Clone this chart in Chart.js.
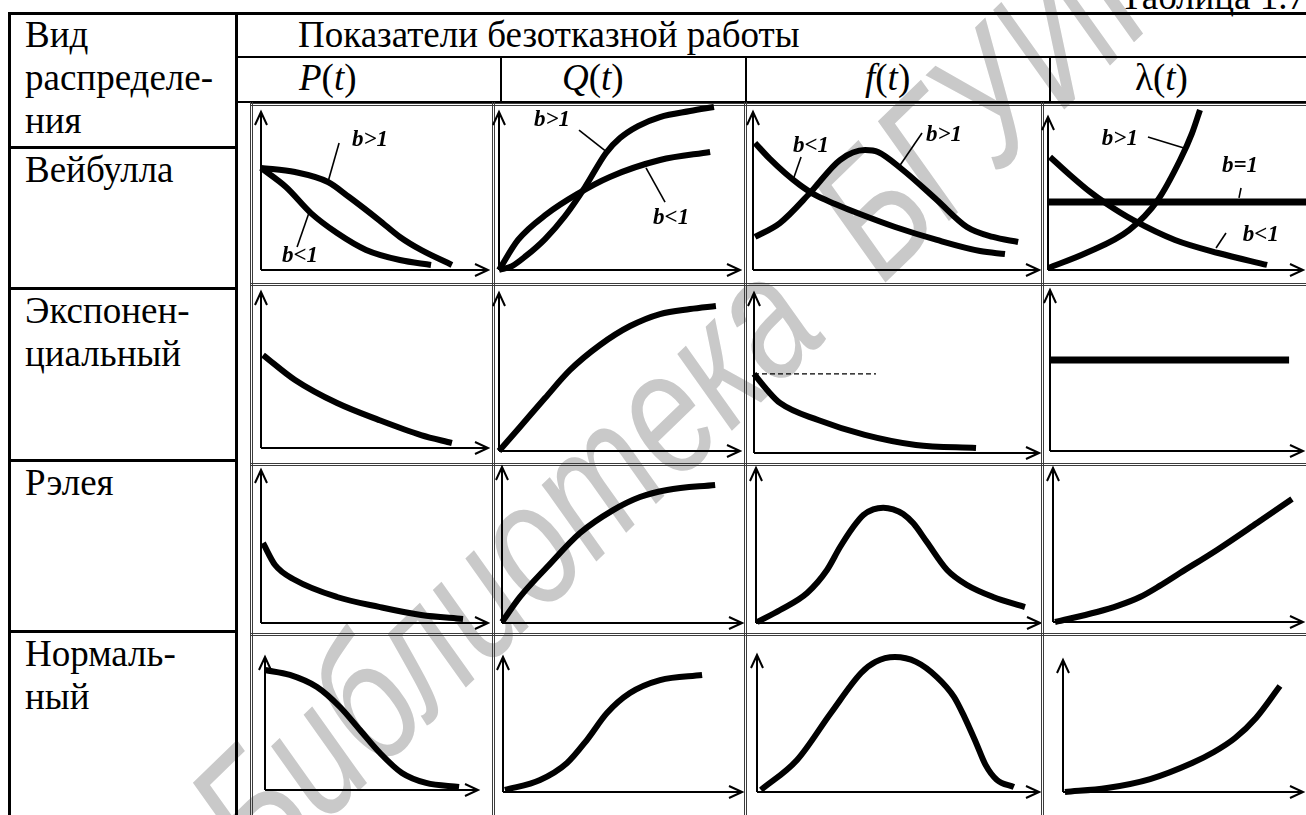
<!DOCTYPE html>
<html lang="ru">
<head>
<meta charset="utf-8">
<title>Показатели безотказной работы</title>
<script src="https://cdn.jsdelivr.net/npm/chart.js@4.4.1/dist/chart.umd.min.js"></script>
<style>
  html, body { margin: 0; padding: 0; background: #fff; }
  #sheet {
    position: relative; width: 1306px; height: 815px; overflow: hidden; background: #fff;
    font-family: "Liberation Serif", "Times New Roman", serif; color: #000;
  }
  .ln { position: absolute; background: #000; z-index: 2; }
  .thin { background: #3c3c3c; }
  .txt {
    position: absolute; white-space: nowrap; line-height: 1; z-index: 3;
    font-family: "Liberation Serif", "Times New Roman", serif;
  }
  canvas.cell { position: absolute; z-index: 4; }
  #stamp {
    position: absolute; white-space: nowrap; line-height: 1; z-index: 1;
    font: italic 176px "Liberation Sans", Arial, sans-serif; color: #c9c9c9; word-spacing: 45px;
    left: 252px; top: 727px; transform-origin: 0 149px; transform: rotate(-44deg) scale(0.77, 1);
  }
</style>
</head>
<body>
<div id="sheet"><div id="stamp">Библиотека БГУИР</div></div>
<script>
// подписи таблицы
const tableCaption = "Таблица 1.7";
const headerTitle = "Показатели безотказной работы";
const columnTitles = ["<i>P</i>(<i>t</i>)", "<i>Q</i>(<i>t</i>)", "<i>f</i>(<i>t</i>)", "λ(<i>t</i>)"];
const cornerTitle = ["Вид", "распределе-", "ния"];
const rowTitles = [["Вейбулла"], ["Экспонен-", "циальный"], ["Рэлея"], ["Нормаль-", "ный"]];

// кривые: [t, значение] в процентах длины осей (0 — начало, 100 — стрелка)
// Вейбулла
const weibullP_gt = [[0,64.6],[15,62],[29.5,55.7],[38.8,46.2],[52,31.6],[61.2,20.9],[70.5,12.7],[84.1,3.2]];
const weibullP_lt = [[0,64.6],[11,52.5],[22,36],[33.5,23.4],[46.3,12.7],[61.2,6.3],[74.9,3.2]];
const weibullQ_gt = [[0,0],[5.4,2.5],[11.2,8.9],[19.1,19.6],[27.4,34.2],[35.7,52.5],[44.4,74.1],[50.2,83.5],[57.7,91.1],[66.8,96.8],[79.3,100.6],[89.2,103.2]];
const weibullQ_lt = [[0,0],[7.9,19],[19.9,35.5],[32.4,48],[46,58.9],[66.8,69.6],[87.6,74.7]];
const weibullF_lt = [[0.7,80.4],[5.9,70.3],[11.2,61.4],[16.4,53.8],[21.7,47.5],[28.7,41.8],[37.4,35.4],[49.7,27.2],[64.3,19],[79.4,12],[88.1,10.1]];
const weibullF_gt = [[0.7,20.9],[9.4,29.7],[19.9,48.7],[30.4,69.6],[39.2,75.9],[43.7,74.7],[52.4,63.3],[64.3,44.3],[74.8,27.2],[83.9,20.9],[92.7,17.7]];
const weibullL_gt = [[0,1.3],[14.9,11.1],[31.8,26.1],[43.1,45.8],[51.8,71.9],[56.5,89.5],[59.6,104.6]];
const weibullL_lt = [[0.8,73.9],[8.6,62.1],[16.5,51],[23.1,43.1],[33.3,32.7],[49.8,19.6],[66.7,11.1],[85.9,3.3]];
const weibullL_eq = [[0,44.4],[101.2,44.4]];
// экспоненциальный
const expP = [[0.9,59.6],[15,43.6],[33.5,28.8],[52,17.9],[70.5,8.3],[84.1,3.2]];
const expQ = [[0,0],[8.7,15.2],[19.1,33.5],[29.5,51.3],[41.9,67.1],[54.4,79.1],[66.8,86.7],[79.3,89.9],[90,91.8]];
const expF = [[0,49.4],[4.6,39.4],[9.1,31.3],[22.5,20.6],[38.9,11.3],[56.8,5],[77.9,3.1]];
const expF_level = [[0,49.4],[42.8,49.4]];
const expL = [[0,56.5],[94.5,56.5]];
// Рэлея
const rayleighP = [[0.9,52.3],[6.2,37.9],[15,28.1],[33.5,17],[52,10.5],[70.5,5.2],[89,2.6]];
const rayleighQ = [[0,0.6],[7.5,16.7],[18.8,35.9],[32.5,57.7],[46.3,72.4],[57.5,80.8],[68.8,85.3],[88.8,88.5]];
const rayleighF = [[0.4,0.6],[8.5,8.4],[18,19.4],[25,34.2],[29.6,49],[34.3,62.1],[37.8,69.7],[41.3,73.3],[44.8,74.4],[48.3,73.3],[51.8,70.3],[55.4,64.3],[60.1,52.4],[67.3,34.2],[74.3,24.5],[83.5,16.8],[94.7,10.3]];
const rayleighL = [[0.8,0],[17.6,6.5],[26.1,10.6],[34.8,16.2],[42.8,23.6],[50.8,31.8],[65.6,46.8],[81.6,64.3],[95.6,79.9]];
// нормальный
const normalP = [[0,90.2],[11.7,86.5],[24.4,77.4],[35.2,62.4],[44.6,45.1],[54,27.8],[64.3,12.8],[75.6,5.3],[91.1,2.3]];
const normalQ = [[0.8,1.5],[15.5,8.9],[26.8,21.5],[35.1,38.5],[43.5,58.5],[53.1,73.3],[65.7,82.9],[83.3,86.7]];
const normalF = [[1.4,1.5],[14.2,23.4],[26.2,57.7],[36.9,86.9],[42,95],[48.9,98.5],[56.4,95],[63.8,83.9],[69.9,69.3],[73.5,55],[77.7,35.8],[81,20],[85,9],[91.1,3.6]];
const normalL = [[0.8,0],[18.3,3],[36.3,9.8],[53.8,22],[62.9,30.3],[71.7,40.9],[80.4,56.1],[90.4,80.3]];

// выноски и надписи параметра формы b
const weibullP_leaders = [[[34.4,80.4],[29.5,55.7]], [[15.9,14.6],[21.1,36.1]]];
const weibullP_notes = [["b>1",48,82.3], ["b<1",17.2,8.9]];
const weibullQ_leaders = [[[33.2,88.6],[45.2,74.1]], [[61,64.6],[68.9,43]]];
const weibullQ_notes = [["b>1",22,94.9], ["b<1",71.4,32.9]];
const weibullF_leaders = [[[16.8,71.5],[14,57]], [[59.1,86.7],[51,65.2]]];
const weibullF_notes = [["b<1",20.3,78.5], ["b>1",66.8,85.4]];
const weibullL_leaders = [[[39.2,86.9],[53.3,79.7]], [[75.7,53.6],[74.9,47.1]], [[69.8,24.2],[65.9,14.4]]];
const weibullL_notes = [["b>1",28.2,85.6], ["b=1",75.3,68], ["b<1",83.5,22.9]];

// геометрия сетки: границы ячеек и оси (начало координат, концы стрелок)
const colEdges = [250, 492, 744, 1041, 1306];
const rowEdges = [103, 283, 463, 633, 815];
const axesGeom = [
  [{ox:261,oy:270,tx:488,ty:112}, {ox:499,oy:270,tx:740,ty:112}, {ox:753,oy:270,tx:1039,ty:112}, {ox:1048,oy:270,tx:1303,ty:117}],
  [{ox:261,oy:448,tx:488,ty:292}, {ox:499,oy:451,tx:740,ty:293}, {ox:754,oy:453,tx:1039,ty:293}, {ox:1050,oy:451,tx:1303,ty:290}],
  [{ox:261,oy:623,tx:488,ty:470}, {ox:502,oy:623,tx:742,ty:467}, {ox:756,oy:623,tx:1040,ty:468}, {ox:1053,oy:622,tx:1303,ty:468}],
  [{ox:265,oy:790,tx:478,ty:657}, {ox:503,oy:792,tx:742,ty:657}, {ox:757,oy:792,tx:1039,ty:655}, {ox:1063,oy:792,tx:1303,ty:660}]
];

const sheet = document.getElementById("sheet");

function line(x, y, w, h, thin) {
  const d = document.createElement("div");
  d.className = thin ? "ln thin" : "ln";
  Object.assign(d.style, { left: x + "px", top: y + "px", width: w + "px", height: h + "px" });
  sheet.appendChild(d);
}

// текст ставится по базовой линии
function putText(html, x, baseline, size) {
  const d = document.createElement("div");
  d.className = "txt";
  d.style.fontSize = size + "px";
  d.style.left = x + "px";
  d.style.top = (baseline - Math.round(size * 0.8375)) + "px";
  d.innerHTML = html;
  sheet.appendChild(d);
}

// рамка таблицы
line(8, 12, 1298, 2.5);
line(8, 12, 2.5, 803);
line(235, 12, 2.5, 803);
line(235, 56, 1071, 2);
line(235, 101, 1071, 2);
[500, 745, 1049].forEach(x => line(x, 56, 2, 46));
[146, 287, 459, 630].forEach(y => line(8, y, 228, 2.5));
// тонкая двойная сетка под графики
colEdges.slice(0, 4).forEach(x => { line(x, 102, 1, 713, true); line(x + 2, 102, 1, 713, true); });
rowEdges.slice(0, 4).forEach(y => { line(250, y, 1056, 1, true); line(250, y + 2, 1056, 1, true); });

// надписи
const FS = 37;
putText(tableCaption, 1120, 9, FS);
putText(headerTitle, 298, 47, FS);
[299, 562, 865, 1135].forEach((x, i) => putText(columnTitles[i], x, 90, FS));
cornerTitle.forEach((s, i) => putText(s, 25, 47 + i * 43, FS));
const rowBase = [182, 323, 495, 666];
rowTitles.forEach((lines, r) => lines.forEach((s, i) => putText(s, 25, rowBase[r] + i * 43, FS)));

// оси со стрелками
const axisArrows = {
  id: "axisArrows",
  beforeDatasetsDraw(chart) {
    const { ctx, chartArea: a } = chart;
    ctx.save();
    ctx.strokeStyle = "#000";
    ctx.lineWidth = 2;
    ctx.beginPath();
    ctx.moveTo(a.left, a.bottom); ctx.lineTo(a.left, a.top);
    ctx.moveTo(a.left, a.bottom); ctx.lineTo(a.right, a.bottom);
    ctx.moveTo(a.left - 6, a.top + 13); ctx.lineTo(a.left, a.top); ctx.lineTo(a.left + 6, a.top + 13);
    ctx.moveTo(a.right - 13, a.bottom - 6); ctx.lineTo(a.right, a.bottom); ctx.lineTo(a.right - 13, a.bottom + 6);
    ctx.stroke();
    ctx.restore();
  }
};

// подписи b>1, b<1, b=1
const curveNotes = {
  id: "curveNotes",
  afterDatasetsDraw(chart, args, opts) {
    const items = opts.items || [];
    const { ctx, scales } = chart;
    ctx.save();
    ctx.fillStyle = "#000";
    ctx.font = 'italic bold 23px "Liberation Serif"';
    ctx.textAlign = "center";
    ctx.textBaseline = "middle";
    items.forEach(([label, x, y]) => ctx.fillText(label, scales.x.getPixelForValue(x), scales.y.getPixelForValue(y)));
    ctx.restore();
  }
};

const toXY = pts => pts.map(([x, y]) => ({ x, y }));
const curve = (pts, width) => ({
  data: toXY(pts), showLine: true, borderColor: "#000", borderWidth: width || 6,
  pointRadius: 0, cubicInterpolationMode: "monotone", borderCapStyle: "butt", clip: false
});
const straight = (pts, width, dash) => ({
  data: toXY(pts), showLine: true, borderColor: "#000", borderWidth: width,
  borderDash: dash || [], pointRadius: 0, tension: 0, borderCapStyle: "butt", clip: false
});

const grid = [
  [
    { sets: [curve(weibullP_gt), curve(weibullP_lt), ...weibullP_leaders.map(l => straight(l, 1.6))], notes: weibullP_notes },
    { sets: [curve(weibullQ_gt), curve(weibullQ_lt), ...weibullQ_leaders.map(l => straight(l, 1.6))], notes: weibullQ_notes },
    { sets: [curve(weibullF_lt), curve(weibullF_gt), ...weibullF_leaders.map(l => straight(l, 1.6))], notes: weibullF_notes },
    { sets: [curve(weibullL_gt), curve(weibullL_lt), straight(weibullL_eq, 7), ...weibullL_leaders.map(l => straight(l, 1.6))], notes: weibullL_notes }
  ],
  [
    { sets: [curve(expP)] },
    { sets: [curve(expQ)] },
    { sets: [straight(expF_level, 1.2, [5, 3]), curve(expF)] },
    { sets: [straight(expL, 7)] }
  ],
  [
    { sets: [curve(rayleighP)] },
    { sets: [curve(rayleighQ)] },
    { sets: [curve(rayleighF)] },
    { sets: [curve(rayleighL)] }
  ],
  [
    { sets: [curve(normalP)] },
    { sets: [curve(normalQ)] },
    { sets: [curve(normalF)] },
    { sets: [curve(normalL)] }
  ]
];

grid.forEach((row, r) => row.forEach((cell, c) => {
  const x0 = colEdges[c], x1 = colEdges[c + 1], y0 = rowEdges[r], y1 = rowEdges[r + 1];
  const g = axesGeom[r][c];
  const canvas = document.createElement("canvas");
  canvas.className = "cell";
  canvas.width = x1 - x0;
  canvas.height = y1 - y0;
  canvas.style.left = x0 + "px";
  canvas.style.top = y0 + "px";
  sheet.appendChild(canvas);

  new Chart(canvas, {
    type: "scatter",
    data: { datasets: cell.sets },
    options: {
      responsive: false,
      animation: false,
      devicePixelRatio: 1,
      events: [],
      layout: { padding: { left: g.ox - x0, right: x1 - g.tx, top: g.ty - y0, bottom: y1 - g.oy } },
      scales: {
        x: { type: "linear", min: 0, max: 100, display: false },
        y: { type: "linear", min: 0, max: 100, display: false }
      },
      plugins: {
        legend: { display: false },
        tooltip: { enabled: false },
        curveNotes: { items: cell.notes || [] }
      }
    },
    plugins: [axisArrows, curveNotes]
  });
}));
</script>
</body>
</html>
